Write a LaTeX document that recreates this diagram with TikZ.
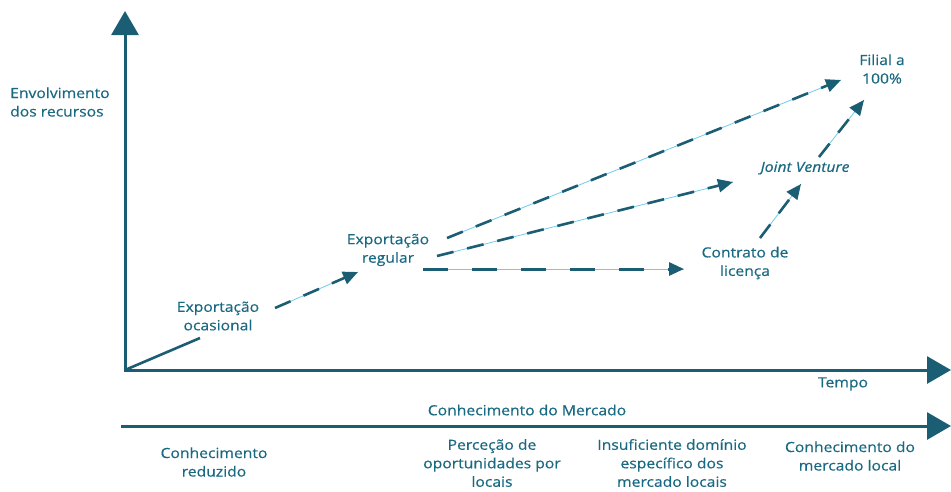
\documentclass[tikz,border=0pt]{standalone}
\usepackage{fontspec}
\setmainfont[FakeStretch=1.12,FakeBold=0.5]{Open Sans}
\usetikzlibrary{arrows.meta}
\definecolor{txt}{HTML}{1A6982}
\definecolor{ln}{HTML}{1B5E74}
\definecolor{halo}{HTML}{6CCDEA}
\tikzset{
 lbl/.style={text=txt, font=\fontsize{14}{18.5}\selectfont, align=center, inner sep=1pt},
 axisline/.style={draw=ln, line width=3pt, -{Triangle[width=27pt,length=24pt]}},
 dsh/.style={draw=ln, line width=2.6pt, dash pattern=on 17pt off 14pt, -{Triangle[width=13pt,length=15pt]}},
 dshthick/.style={draw=ln, line width=3pt, dash pattern=on 25pt off 24pt, -{Triangle[width=13pt,length=15pt]}},
 haloline/.style={draw=halo, line width=0.8pt},
}
\begin{document}
\begin{tikzpicture}[x=1pt,y=-1pt]
\useasboundingbox (0,0) rectangle (951,491);
% axes
\coordinate (O) at (125,370);
\coordinate (Ytop) at (125,11);
\coordinate (Xend) at (951,370);
\coordinate (M0) at (121,426);
\coordinate (Mend) at (951,426);
\draw[axisline] (O) -- (Ytop);
\draw[axisline] ([xshift=-1.5pt]O) -- (Xend);
\draw[axisline] (M0) -- (Mend);
% labels
\node[lbl, align=left, anchor=west] (ylab) at (9,102) {Envolvimento\\dos recursos};
\node[lbl] (tempo) at (843,384) {Tempo};
\node[lbl] (merc) at (527,410) {Conhecimento do Mercado};
\node[lbl] (b1) at (214,462) {Conhecimento\\reduzido};
\node[lbl] (b2) at (492,463) {Perceção de\\oportunidades por\\locais};
\node[lbl] (b3) at (672,463) {Insuficiente domínio\\específico dos\\mercado locais};
\node[lbl] (b4) at (850,456) {Conhecimento do\\mercado local};
\node[lbl] (occ) at (218,316) {Exportação\\ocasional};
\node[lbl] (reg) at (388,250) {Exportação\\regular};
\node[lbl] (lic) at (745,263) {Contrato de\\licença};
\node[lbl, font=\fontsize{14}{18.5}\selectfont\itshape] (jv) at (805,168) {Joint Venture};
\node[lbl] (fil) at (882,69) {Filial a\\100\%};
% connector end points
\coordinate (p1) at (200,338);
\coordinate (p2a) at (275,308);
\coordinate (p2b) at (358,272);
\coordinate (p3a) at (447,238);
\coordinate (p3b) at (841,80);
\coordinate (p4a) at (437,256);
\coordinate (p4b) at (733,182);
\coordinate (p5a) at (423,269);
\coordinate (p5b) at (684,269);
\coordinate (p6a) at (760,238);
\coordinate (p6b) at (801,184);
\coordinate (p7a) at (819,157);
\coordinate (p7b) at (864,100);
% connectors
\draw[draw=ln, line width=2.6pt] (O) -- (p1);
\foreach \a/\b in {p2a/p2b,p3a/p3b,p4a/p4b,p6a/p6b,p7a/p7b}{
  \draw[haloline] (\a) -- (\b);
  \draw[dsh] (\a) -- (\b);
}
\draw[haloline] (p5a) -- (p5b);
\draw[dshthick] (p5a) -- (p5b);
\end{tikzpicture}
\end{document}
